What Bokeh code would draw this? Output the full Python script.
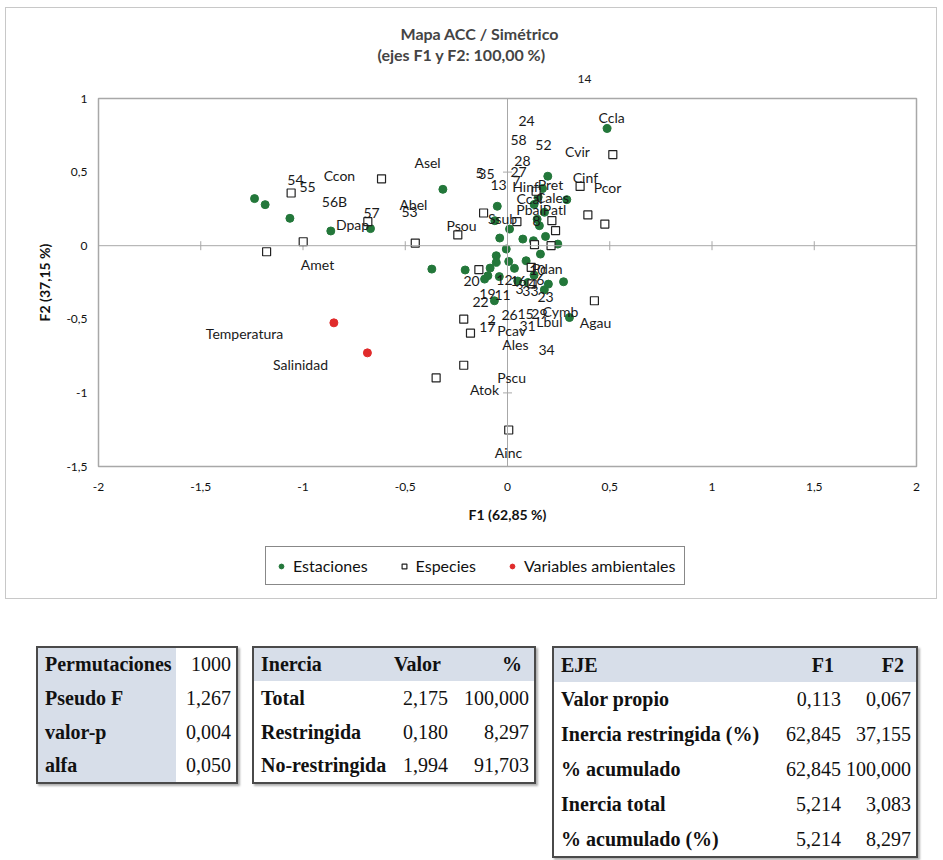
import math
from bokeh.plotting import figure
from bokeh.models import (ColumnDataSource, LabelSet, Legend, LegendItem, Span, Title,
                          Div, FixedTicker, CustomJSTickFormatter)
from bokeh.layouts import column
from bokeh.embed import file_html
from bokeh.resources import INLINE
from bokeh.core.properties import value

FONT = "Lato"

# ---------------- data ----------------
# Estaciones (F1, F2)
st_x = [-1.237, -1.185, -1.064, -0.864, -0.670, -0.316, -0.370, 0.487, 0.197, 0.290,
        -0.050, -0.062, 0.010, -0.038, 0.075, -0.006, 0.156, 0.186, 0.246, 0.127,
        0.181, 0.171, -0.055, -0.055, 0.006, 0.034, 0.091, 0.161, -0.207, -0.085,
        -0.112, -0.096, 0.200, 0.274, 0.303, -0.064, 0.150, 0.130, 0.050, 0.100,
        0.180, -0.040, 0.130, 0.145]
st_y = [0.320, 0.279, 0.186, 0.100, 0.116, 0.383, -0.159, 0.796, 0.472, 0.313,
        0.268, 0.170, 0.113, 0.052, 0.045, -0.023, 0.136, 0.063, 0.011, 0.034,
        0.227, 0.388, -0.068, -0.113, -0.107, -0.154, -0.102, -0.057, -0.165, -0.152,
        -0.227, -0.204, -0.261, -0.245, -0.488, -0.374, 0.330, 0.280, -0.240, -0.250,
        -0.300, -0.210, -0.200, 0.180]

# Especies (F1, F2)
sp_x = [-1.058, -0.616, -0.683, -0.999, -1.178, -0.451, -0.243, -0.117, 0.046, 0.355,
        0.515, 0.393, 0.476, 0.217, 0.235, 0.213, 0.132, -0.140, 0.116, 0.425,
        -0.214, -0.181, -0.214, -0.349, 0.006, 0.140, 0.120]
sp_y = [0.358, 0.454, 0.163, 0.027, -0.041, 0.018, 0.073, 0.222, 0.163, 0.403,
        0.619, 0.209, 0.147, 0.170, 0.102, 0.000, 0.007, -0.163, -0.147, -0.374,
        -0.499, -0.594, -0.812, -0.898, -1.252, 0.370, -0.260]

# Variables ambientales (F1, F2)
env_x = [-0.849, -0.685]
env_y = [-0.524, -0.728]

# Etiquetas (texto, F1, F2)
lab_text = ["Ccla", "Cvir", "Cinf", "Pcor", "Pret", "Hinf", "Ccal", "Cales", "Pbal", "Patl",
            "Ssub", "Psou", "Asel", "Abel", "Ccon", "Dpap", "Amet", "Pdan", "Cymb", "Lbul",
            "Agau", "Pcav", "Ales", "Pscu", "Atok", "Ainc",
            "24", "58", "52", "28", "27", "7", "5", "35", "13", "8", "54", "55", "56B",
            "57", "53", "20", "12", "16", "4", "6", "10", "33", "3", "19", "11", "22", "23",
            "26", "15", "29", "2", "17", "31", "34",
            "Temperatura", "Salinidad"]
lab_x = [0.509, 0.342, 0.381, 0.489, 0.210, 0.088, 0.108, 0.220, 0.108, 0.230,
         -0.024, -0.225, -0.391, -0.460, -0.822, -0.758, -0.929, 0.195, 0.259, 0.205,
         0.430, 0.020, 0.039, 0.020, -0.112, 0.005,
         0.093, 0.054, 0.176, 0.073, 0.054, 0.044, -0.137, -0.103, -0.044, 0.142,
         -1.037, -0.978, -0.846, -0.665, -0.479, -0.176, -0.015, 0.054, 0.122, 0.161,
         0.146, 0.112, 0.059, -0.098, -0.024, -0.132, 0.186, 0.010, 0.088, 0.156,
         -0.078, -0.098, 0.098, 0.191,
         -1.286, -1.012]
lab_y = [0.871, 0.639, 0.463, 0.395, 0.415, 0.401, 0.320, 0.327, 0.245, 0.245,
         0.184, 0.136, 0.565, 0.279, 0.476, 0.143, -0.129, -0.156, -0.449, -0.517,
         -0.524, -0.578, -0.673, -0.898, -0.980, -1.408,
         0.844, 0.721, 0.687, 0.578, 0.503, 0.442, 0.497, 0.490, 0.415, 0.170,
         0.449, 0.401, 0.299, 0.224, 0.231, -0.238, -0.231, -0.238, -0.259, -0.231,
         -0.163, -0.306, -0.293, -0.327, -0.333, -0.381, -0.347, -0.469, -0.463, -0.463,
         -0.503, -0.551, -0.544, -0.707,
         -0.599, -0.810]
# label of station 14 lies above the plotting area (drawn in the title band)
off_label = "14"

x_ticks = [-2, -1.5, -1, -0.5, 0, 0.5, 1, 1.5, 2]
y_ticks = [-1.5, -1, -0.5, 0, 0.5, 1]

title_1 = "Mapa ACC / Simétrico"
title_2 = "(ejes F1 y F2: 100,00 %)"
x_label = "F1 (62,85 %)"
y_label = "F2 (37,15 %)"
legend_labels = ["Estaciones", "Especies", "Variables ambientales"]

# tables
t1_labels = ["Permutaciones", "Pseudo F", "valor-p", "alfa"]
t1_values = ["1000", "1,267", "0,004", "0,050"]

t2_header = ["Inercia", "Valor", "%"]
t2_rows = ["Total", "Restringida", "No-restringida"]
t2_valor = ["2,175", "0,180", "1,994"]
t2_pct = ["100,000", "8,297", "91,703"]

t3_header = ["EJE", "F1", "F2"]
t3_rows = ["Valor propio", "Inercia restringida (%)", "% acumulado", "Inercia total", "% acumulado (%)"]
t3_f1 = ["0,113", "62,845", "62,845", "5,214", "5,214"]
t3_f2 = ["0,067", "37,155", "100,000", "3,083", "8,297"]

# ---------------- chart ----------------
GREEN = "#23773a"
RED = "#e02b2b"
GRAY = "#a8a8a8"

ST_STYLE = dict(marker="circle", size=8, fill_color=GREEN, line_color=GREEN)
SP_STYLE = dict(marker="square", size=8, fill_color="white", line_color="#222222", line_width=1.2)
ENV_STYLE = dict(marker="circle", size=8, fill_color=RED, line_color=RED)

p = figure(width=930, height=528, x_range=(-2, 2), y_range=(-1.5, 1),
           output_backend="svg", toolbar_location=None,
           min_border_left=92, min_border_right=20, min_border_bottom=70, min_border_top=90)
p.grid.visible = False
p.outline_line_color = GRAY
p.outline_line_width = 1.5

p.add_layout(Title(text=off_label, align="left", offset=479, text_font=FONT,
                   text_font_size="12px", text_font_style="normal", standoff=31,
                   text_color="#1a1a1a"), "above")
p.add_layout(Title(text=title_2, align="left", offset=279, text_font=FONT, text_font_size="16px",
                   text_font_style="bold", standoff=-12), "above")
p.add_layout(Title(text=title_1, align="left", offset=302, text_font=FONT, text_font_size="16px",
                   text_font_style="bold", standoff=12), "above")

fmt = CustomJSTickFormatter(code="return tick.toString().replace('.', ',');")
for ax, ticks in ((p.xaxis, x_ticks), (p.yaxis, y_ticks)):
    ax.ticker = FixedTicker(ticks=ticks)
    ax.formatter = fmt
    ax.axis_line_color = None
    ax.major_tick_line_color = None
    ax.minor_tick_line_color = None
    ax.major_label_text_font = FONT
    ax.major_label_text_font_size = "12px"
    ax.major_label_text_color = "#111111"
    ax.axis_label_text_font = FONT
    ax.axis_label_text_font_size = "14px"
    ax.axis_label_text_font_style = "bold"
    ax.axis_label_text_color = "#111111"
p.xaxis.axis_label = x_label
p.yaxis.axis_label = y_label
p.xaxis.major_label_standoff = 10
p.xaxis.axis_label_standoff = 12
p.yaxis.major_label_standoff = 5
p.yaxis.axis_label_standoff = 10

p.add_layout(Span(location=0, dimension="width", line_color=GRAY, line_width=1))
p.add_layout(Span(location=0, dimension="height", line_color=GRAY, line_width=1))
p.scatter(x_ticks, [0] * len(x_ticks), marker="dash", angle=math.pi / 2, size=9,
          line_color=GRAY, line_width=1)
p.scatter([0] * len(y_ticks), y_ticks, marker="dash", size=9, line_color=GRAY, line_width=1)

p.scatter(st_x, st_y, **ST_STYLE)
p.scatter(sp_x, sp_y, **SP_STYLE)
p.scatter(env_x, env_y, **ENV_STYLE)

lab_src = ColumnDataSource(dict(x=lab_x, y=lab_y, text=lab_text))
p.add_layout(LabelSet(x="x", y="y", text="text", source=lab_src, text_align="center",
                      text_baseline="middle", text_font=value(FONT), text_font_size="14px",
                      text_color="#1a1a1a"))

# ---------------- legend strip (same chart box) ----------------
# the strip's view range lies outside the data, so only the legend swatches show
lf = figure(width=930, height=62, x_range=(-2, 2), y_range=(5, 6), output_backend="svg",
            toolbar_location=None, min_border=0)
lf.outline_line_color = None
lf.axis.visible = False
lf.grid.visible = False
l_st = lf.scatter(st_x, st_y, **ST_STYLE)
l_sp = lf.scatter(sp_x, sp_y, **SP_STYLE)
l_env = lf.scatter(env_x, env_y, **ENV_STYLE)
legend = Legend(items=[LegendItem(label=legend_labels[0], renderers=[l_st]),
                       LegendItem(label=legend_labels[1], renderers=[l_sp]),
                       LegendItem(label=legend_labels[2], renderers=[l_env])],
                orientation="horizontal", location=(167, 13),
                border_line_color="#111111", border_line_width=1.5,
                label_text_font=FONT, label_text_font_size="16px", label_text_color="#111111",
                glyph_width=12, glyph_height=12, label_standoff=6, spacing=30,
                padding=9, margin=0, background_fill_alpha=1)
lf.add_layout(legend, "center")

chart = column(p, lf, spacing=0)
chart.margin = (7, 0, 0, 5)
chart.styles = {"border": "1px solid #c8c8c8"}

# ---------------- tables ----------------
def table_html(left, widths, header, rows, row_h, shade_first_col=False):
    h = f'<table class="t" style="left:{left}px;top:47px;">'
    h += "<colgroup>" + "".join(f'<col style="width:{w}px">' for w in widths) + "</colgroup>"
    if header:
        h += '<tr class="h">'
        for i, c in enumerate(header):
            cls = "l" if i == 0 else "hv"
            h += f'<td class="{cls}" style="height:{row_h}px">{c}</td>'
        h += "</tr>"
    for row in rows:
        h += "<tr>"
        for i, c in enumerate(row):
            if i == 0:
                cls = "l sh" if shade_first_col else "l"
            else:
                cls = "v"
            h += f'<td class="{cls}" style="height:{row_h}px">{c}</td>'
        h += "</tr>"
    return h + "</table>"

style = """<style>
.wrap{position:relative;width:930px;height:260px;}
.t{position:absolute;border-collapse:collapse;border:2px solid #4a4a4a;
   box-shadow:2px 2px 2px #b0b0b0;font-family:'Liberation Serif','Times New Roman',serif;
   font-size:20px;color:#111;background:white;table-layout:fixed;}
.t td{padding:0;white-space:nowrap;}
.t td.l{font-weight:bold;text-align:left;padding-left:7px;}
.t td.v{text-align:right;padding-right:5px;}
.t td.hv{text-align:right;padding-right:12px;font-weight:bold;}
.t tr.h td{background:#d7dee9;}
.t td.sh{background:#d7dee9;}
</style>"""

html = style + '<div class="wrap">'
html += table_html(36, [139, 61], None, list(zip(t1_labels, t1_values)), 34, shade_first_col=True)
html += table_html(252, [137, 63, 82], t2_header, list(zip(t2_rows, t2_valor, t2_pct)), 34)
html += table_html(552, [217, 76, 71], t3_header, list(zip(t3_rows, t3_f1, t3_f2)), 35)
html += "</div>"

div = Div(text=html, width=930, height=260)
div.margin = (0, 0, 0, 0)

layout = column(chart, div, spacing=0)
open("out.html", "w").write(file_html(layout, INLINE))
